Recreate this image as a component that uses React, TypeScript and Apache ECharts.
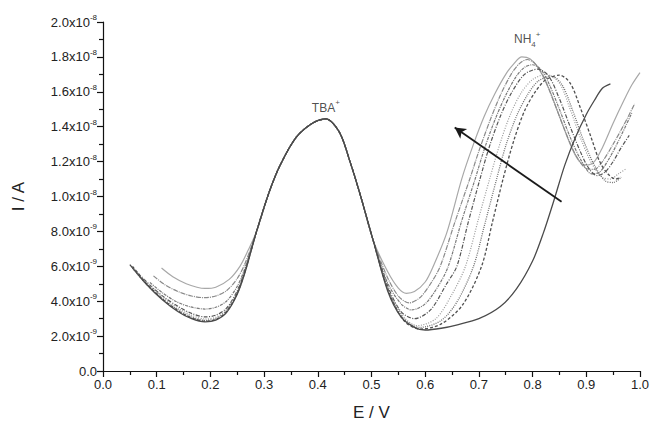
import React, { useEffect, useRef } from "react";
import * as echarts from "echarts";

// Current values in units of 1e-9 A, potential in V
const sharedTbaPeak: number[][] = [
  [0.286, 8.0], [0.31, 10.3], [0.33, 11.8], [0.36, 13.4], [0.39, 14.2], [0.415, 14.45],
  [0.44, 13.7], [0.46, 12.0], [0.48, 10.0], [0.503, 7.5],
];

const leftA = [[0.109, 5.9], [0.13, 5.4], [0.155, 5.0], [0.175, 4.8], [0.19, 4.73], [0.21, 4.8], [0.235, 5.25], [0.255, 6.0], [0.27, 6.9]];
const leftB = [[0.094, 5.45], [0.115, 4.95], [0.14, 4.55], [0.165, 4.3], [0.19, 4.2], [0.21, 4.3], [0.23, 4.6], [0.25, 5.3], [0.265, 6.2]];
const leftC = [[0.0875, 5.07], [0.11, 4.5], [0.135, 4.0], [0.16, 3.7], [0.19, 3.55], [0.21, 3.65], [0.23, 4.0], [0.25, 4.85], [0.265, 5.95]];
const leftD = [[0.065, 5.6], [0.09, 4.85], [0.115, 4.2], [0.14, 3.7], [0.165, 3.3], [0.19, 3.1], [0.21, 3.2], [0.23, 3.6], [0.25, 4.6], [0.265, 5.85]];
const leftE = [[0.06, 5.8], [0.085, 4.95], [0.11, 4.25], [0.14, 3.6], [0.165, 3.2], [0.19, 2.98], [0.21, 3.08], [0.23, 3.5], [0.25, 4.55], [0.265, 5.8]];
const leftF = [[0.055, 5.9], [0.08, 5.0], [0.11, 4.15], [0.14, 3.5], [0.165, 3.1], [0.19, 2.9], [0.21, 3.0], [0.23, 3.45], [0.25, 4.5], [0.265, 5.8]];
const leftG = [[0.055, 6.0], [0.08, 5.05], [0.11, 4.15], [0.14, 3.45], [0.165, 3.05], [0.19, 2.86], [0.21, 2.95], [0.23, 3.4], [0.25, 4.45], [0.265, 5.75]];
const leftH = [[0.05, 6.1], [0.08, 5.0], [0.11, 4.1], [0.14, 3.4], [0.165, 3.0], [0.19, 2.82], [0.21, 2.92], [0.23, 3.35], [0.25, 4.4], [0.265, 5.7]];

const rightA = [[0.53, 5.7], [0.55, 4.75], [0.565, 4.45], [0.58, 4.55], [0.6, 5.1], [0.615, 6.0], [0.64, 7.9], [0.668, 11.0], [0.69, 13.0], [0.71, 14.6], [0.73, 15.9], [0.75, 17.0], [0.765, 17.6], [0.78, 18.0], [0.795, 17.9], [0.81, 17.4], [0.83, 16.2], [0.85, 14.6], [0.87, 13.0], [0.885, 12.1], [0.9, 11.8], [0.915, 12.0], [0.93, 12.8], [0.95, 14.2], [0.97, 15.5], [0.985, 16.4], [1.0, 17.1]];
const rightB = [[0.53, 5.35], [0.55, 4.3], [0.57, 3.9], [0.59, 4.2], [0.61, 5.0], [0.628, 6.0], [0.655, 8.5], [0.683, 11.0], [0.7, 12.6], [0.72, 14.3], [0.74, 15.8], [0.76, 17.0], [0.775, 17.6], [0.79, 17.85], [0.805, 17.6], [0.82, 16.9], [0.84, 15.4], [0.86, 13.8], [0.88, 12.4], [0.9, 11.6], [0.915, 11.55], [0.93, 12.0], [0.95, 13.0], [0.97, 14.1], [0.99, 15.3]];
const rightC = [[0.53, 5.05], [0.555, 3.85], [0.575, 3.5], [0.6, 3.85], [0.625, 4.9], [0.643, 6.0], [0.668, 8.6], [0.693, 11.0], [0.71, 12.7], [0.73, 14.4], [0.75, 15.8], [0.77, 16.9], [0.785, 17.4], [0.8, 17.55], [0.815, 17.3], [0.83, 16.5], [0.85, 15.0], [0.87, 13.4], [0.89, 12.1], [0.91, 11.3], [0.925, 11.4], [0.945, 12.3], [0.965, 13.5], [0.985, 14.8]];
const rightD = [[0.53, 4.9], [0.555, 3.4], [0.58, 3.0], [0.61, 3.5], [0.64, 5.0], [0.659, 6.0], [0.68, 8.5], [0.702, 11.0], [0.72, 12.9], [0.74, 14.6], [0.76, 15.9], [0.785, 17.0], [0.81, 17.3], [0.83, 16.9], [0.85, 15.6], [0.87, 14.0], [0.89, 12.5], [0.905, 11.6], [0.92, 11.2], [0.935, 11.4], [0.95, 12.0], [0.965, 12.8], [0.98, 13.5]];
const rightE = [[0.53, 4.8], [0.56, 3.1], [0.585, 2.6], [0.62, 3.0], [0.65, 4.4], [0.675, 6.0], [0.7, 8.8], [0.72, 11.0], [0.74, 13.1], [0.76, 14.8], [0.78, 16.0], [0.8, 16.7], [0.825, 17.0], [0.85, 16.5], [0.87, 15.0], [0.89, 13.3], [0.91, 11.9], [0.93, 11.1], [0.945, 11.0], [0.96, 11.3], [0.975, 11.6]];
const rightF = [[0.53, 4.75], [0.56, 3.0], [0.59, 2.5], [0.63, 2.9], [0.66, 4.0], [0.69, 6.0], [0.71, 8.3], [0.733, 11.0], [0.75, 12.9], [0.77, 14.6], [0.79, 15.8], [0.81, 16.6], [0.835, 16.9], [0.855, 16.4], [0.875, 14.9], [0.895, 13.2], [0.915, 11.8], [0.935, 10.9], [0.95, 10.8], [0.965, 11.1]];
const rightG = [[0.53, 4.7], [0.56, 2.9], [0.59, 2.4], [0.63, 2.7], [0.67, 3.8], [0.705, 6.0], [0.725, 8.5], [0.745, 11.0], [0.765, 13.2], [0.785, 14.9], [0.805, 16.0], [0.825, 16.7], [0.85, 16.95], [0.87, 16.5], [0.89, 15.0], [0.91, 13.3], [0.925, 12.0], [0.94, 11.3], [0.955, 11.0], [0.965, 11.1]];
const rightH = [[0.53, 4.6], [0.555, 3.1], [0.58, 2.5], [0.6, 2.35], [0.63, 2.45], [0.66, 2.65], [0.7, 3.0], [0.74, 3.7], [0.77, 4.7], [0.8, 6.3], [0.82, 7.9], [0.84, 9.8], [0.86, 11.8], [0.88, 13.4], [0.9, 14.7], [0.915, 15.5], [0.93, 16.2], [0.945, 16.45]];

const arrowStart = [0.854, 9.7];
const arrowEnd = [0.655, 13.95];
const tbaLabelPos = [0.415, 15.1];
const nh4LabelPos = [0.79, 19.0];

const curves = [
  { left: leftA, right: rightA, color: "#a8a8a8", type: "solid" as any, width: 1.2 },
  { left: leftB, right: rightB, color: "#8a8a8a", type: [5, 1, 1, 1], width: 1.2 },
  { left: leftC, right: rightC, color: "#7a7a7a", type: [3, 1, 1, 1], width: 1.2 },
  { left: leftD, right: rightD, color: "#555555", type: [4, 1.5, 1, 1.5], width: 1.2 },
  { left: leftE, right: rightE, color: "#9a9a9a", type: [1, 1.5], width: 1.2 },
  { left: leftF, right: rightF, color: "#707070", type: [1, 1.2], width: 1.3 },
  { left: leftG, right: rightG, color: "#505050", type: [3, 2], width: 1.3 },
  { left: leftH, right: rightH, color: "#4a4a4a", type: "solid", width: 1.3 },
];

const FONT = "Liberation Sans, Arial, sans-serif";

export default function App() {
  const ref = useRef<HTMLDivElement>(null);
  useEffect(() => {
    if (!ref.current) return;
    const chart = echarts.init(ref.current, undefined, { renderer: "svg" });
    const lineSeries = curves.map((c) => ({
      type: "line",
      data: [...c.left, ...sharedTbaPeak, ...c.right],
      smooth: 0.3,
      showSymbol: false,
      symbol: "none",
      lineStyle: { color: c.color, width: c.width, type: c.type },
      z: 2,
    }));
    chart.setOption({
      animation: false,
      backgroundColor: "#ffffff",
      grid: { left: 103, right: 12, top: 22, bottom: 54, containLabel: false },
      xAxis: {
        type: "value",
        min: 0,
        max: 1,
        interval: 0.1,
        name: "E / V",
        nameLocation: "middle",
        nameGap: 33,
        nameTextStyle: { fontSize: 17, color: "#222", fontFamily: FONT },
        axisLine: { show: true, lineStyle: { color: "#111", width: 1.2 } },
        axisTick: { show: true, length: 6, inside: false, lineStyle: { color: "#111", width: 1.2 } },
        minorTick: { show: true, splitNumber: 2, length: 4, lineStyle: { color: "#111", width: 1.2 } },
        splitLine: { show: false },
        axisLabel: { fontSize: 13, color: "#222", fontFamily: FONT, margin: 7, formatter: (v: number) => v.toFixed(1) },
      },
      yAxis: {
        type: "value",
        min: 0,
        max: 20,
        interval: 2,
        name: "I / A",
        nameLocation: "middle",
        nameGap: 76,
        nameRotate: 90,
        nameTextStyle: { fontSize: 17, color: "#222", fontFamily: FONT },
        axisLine: { show: true, lineStyle: { color: "#111", width: 1.2 } },
        axisTick: { show: true, length: 6, inside: false, lineStyle: { color: "#111", width: 1.2 } },
        minorTick: { show: true, splitNumber: 2, length: 4, lineStyle: { color: "#111", width: 1.2 } },
        splitLine: { show: false },
        axisLabel: {
          margin: 6,
          formatter: (v: number) => {
            if (Math.abs(v) < 1e-9) return "{m|0.0}";
            if (v >= 10) return `{m|${(v / 10).toFixed(1)}x10}{e|-8}`;
            return `{m|${v.toFixed(1)}x10}{e|-9}`;
          },
          rich: {
            m: { fontSize: 13, color: "#222", fontFamily: FONT, lineHeight: 17, verticalAlign: "middle" },
            e: { fontSize: 8, color: "#222", fontFamily: FONT, verticalAlign: "top" },
          },
        },
      },
      series: [
        ...lineSeries,
        {
          type: "scatter",
          symbolSize: 0,
          silent: true,
          data: [tbaLabelPos],
          label: {
            show: true,
            position: "inside",
            formatter: "{m|TBA}{e|+}",
            rich: {
              m: { fontSize: 12, color: "#222", fontFamily: FONT, lineHeight: 18, verticalAlign: "middle" },
              e: { fontSize: 8, color: "#222", fontFamily: FONT, verticalAlign: "top" },
            },
          },
        },
        {
          type: "scatter",
          symbolSize: 0,
          silent: true,
          data: [nh4LabelPos],
          label: {
            show: true,
            position: "inside",
            formatter: "{m|NH}{b|4}{e|+}",
            rich: {
              m: { fontSize: 12, color: "#222", fontFamily: FONT, lineHeight: 18, verticalAlign: "middle" },
              b: { fontSize: 8, color: "#222", fontFamily: FONT, verticalAlign: "bottom" },
              e: { fontSize: 8, color: "#222", fontFamily: FONT, verticalAlign: "top" },
            },
          },
        },
        {
          type: "line",
          data: [],
          silent: true,
          markLine: {
            silent: true,
            symbol: ["none", "arrow"],
            symbolSize: [9, 11],
            label: { show: false },
            lineStyle: { color: "#1a1a1a", width: 1.8, type: "solid" },
            data: [[{ coord: arrowStart }, { coord: arrowEnd }]],
          },
        },
      ],
    });
    return () => chart.dispose();
  }, []);
  return <div ref={ref} style={{ position: "fixed", left: 0, top: 0, width: 652, height: 426, background: "#fff" }} />;
}
